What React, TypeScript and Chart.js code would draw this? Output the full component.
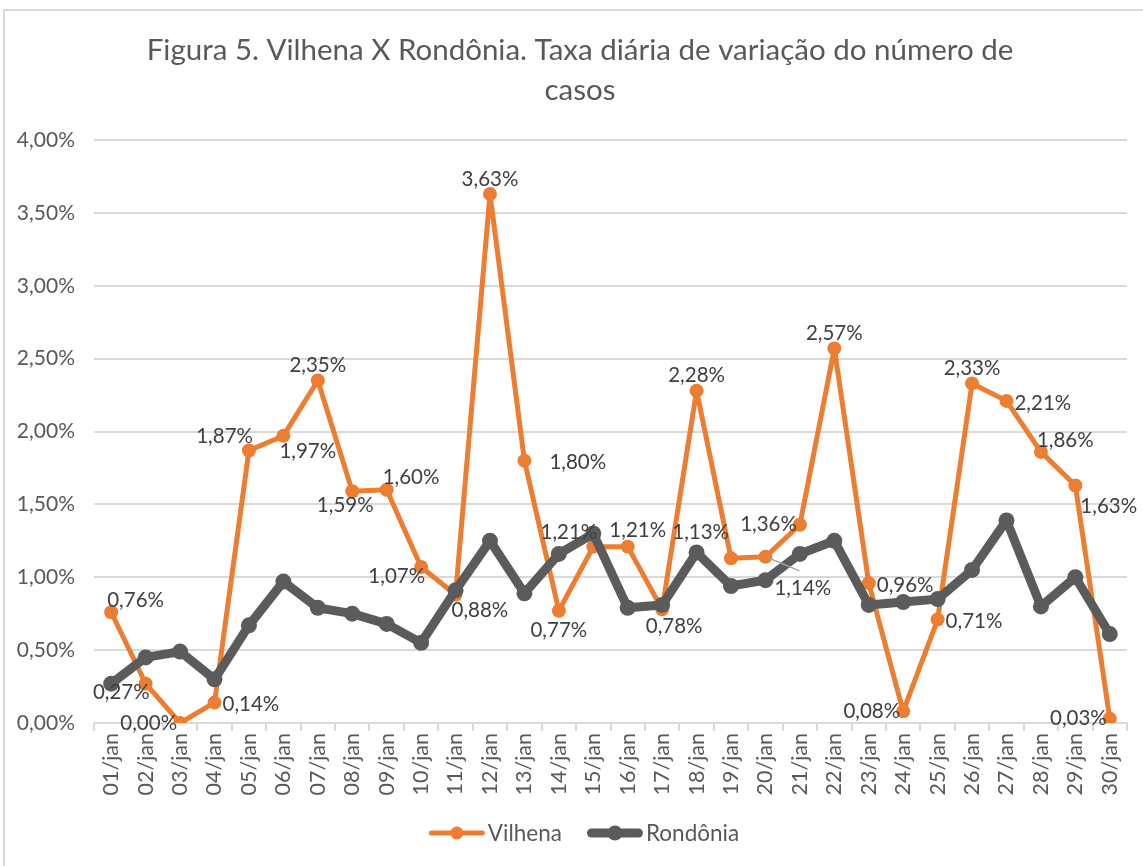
import React, { useEffect, useRef } from "react";
import { Chart, registerables } from "chart.js";

Chart.register(...registerables);

const categories = [
  "01/jan", "02/jan", "03/jan", "04/jan", "05/jan", "06/jan", "07/jan", "08/jan", "09/jan", "10/jan",
  "11/jan", "12/jan", "13/jan", "14/jan", "15/jan", "16/jan", "17/jan", "18/jan", "19/jan", "20/jan",
  "21/jan", "22/jan", "23/jan", "24/jan", "25/jan", "26/jan", "27/jan", "28/jan", "29/jan", "30/jan",
];

const vilhena = [
  0.76, 0.27, 0.0, 0.14, 1.87, 1.97, 2.35, 1.59, 1.6, 1.07,
  0.88, 3.63, 1.8, 0.77, 1.21, 1.21, 0.78, 2.28, 1.13, 1.14,
  1.36, 2.57, 0.96, 0.08, 0.71, 2.33, 2.21, 1.86, 1.63, 0.03,
];

const rondonia = [
  0.27, 0.45, 0.49, 0.3, 0.67, 0.97, 0.79, 0.75, 0.68, 0.55,
  0.91, 1.25, 0.89, 1.16, 1.3, 0.79, 0.81, 1.17, 0.94, 0.98,
  1.16, 1.25, 0.81, 0.83, 0.85, 1.05, 1.39, 0.8, 1.0, 0.61,
];

const seriesNames = ["Vilhena", "Rondônia"];
const titleLines = ["Figura 5. Vilhena X Rondônia. Taxa diária de variação do número de", "casos"];
const yMin = 0;
const yMax = 4;
const yStep = 0.5;

// label placement codes for Vilhena data labels
const labelPos = [
  "tr", "bl", "l", "r", "tl", "br", "t", "bL", "tr", "bl",
  "br", "t", "rr", "b", "tl", "tR", "bR", "t", "tl2", "lead",
  "l", "t", "r", "l", "r", "t", "r", "tr", "br2", "l",
];

const ORANGE = "#ED7D31";
const GREY = "#5B5B5B";
const FONT = "Lato, 'Open Sans', sans-serif";

const fmt = (v: number) => v.toFixed(2).replace(".", ",") + "%";

const dataLabelPlugin = {
  id: "dataLabelPlugin",
  afterDatasetsDraw(chart: any) {
    const ctx = chart.ctx;
    const meta = chart.getDatasetMeta(0);
    ctx.save();
    ctx.font = `20.5px ${FONT}`;
    ctx.fillStyle = "#404040";
    ctx.textBaseline = "middle";
    ctx.textAlign = "left";
    meta.data.forEach((pt: any, i: number) => {
      const x = pt.x;
      const y = pt.y;
      const text = fmt(vilhena[i]);
      const w = ctx.measureText(text).width;
      let lx = x;
      let cy = y;
      switch (labelPos[i]) {
        case "t": lx = x - w / 2; cy = y - 15; break;
        case "tR": lx = x + 10 - w / 2; cy = y - 16; break;
        case "b": lx = x - w / 2; cy = y + 20; break;
        case "bR": lx = x + 12 - w / 2; cy = y + 17; break;
        case "bL": lx = x - 7 - w / 2; cy = y + 14; break;
        case "l": lx = x - 3 - w; cy = y; break;
        case "r": lx = x + 8; cy = y + 2; break;
        case "rr": lx = x + 25; cy = y + 2; break;
        case "tl": lx = x + 4 - w; cy = y - 14; break;
        case "tl2": lx = x - 2 - w; cy = y - 26; break;
        case "tr": lx = x - 4; cy = y - 12; break;
        case "bl": lx = x + 4 - w; cy = y + 9; break;
        case "br": lx = x - 4; cy = y + 16; break;
        case "br2": lx = x + 5; cy = y + 21; break;
        case "lead":
          ctx.save();
          ctx.strokeStyle = "#A6A6A6";
          ctx.lineWidth = 1.5;
          ctx.beginPath();
          ctx.moveTo(x + 3, y + 1);
          ctx.lineTo(x + 34, y + 14);
          ctx.stroke();
          ctx.restore();
          lx = x + 9; cy = y + 32; break;
      }
      ctx.fillText(text, lx, cy);
    });
    ctx.restore();
  },
};

const legendPlugin = {
  id: "customLegend",
  afterDraw(chart: any) {
    const ctx = chart.ctx;
    ctx.save();
    ctx.font = `22.5px ${FONT}`;
    ctx.textBaseline = "middle";
    ctx.textAlign = "left";
    const items = [
      { name: seriesNames[0], color: ORANGE, lw: 5, r: 6.5 },
      { name: seriesNames[1], color: GREY, lw: 9, r: 7.5 },
    ];
    const markW = 56;
    const gapText = 3;
    const gapItem = 25;
    const widths = items.map((it) => ctx.measureText(it.name).width);
    const total = items.reduce((s, it, i) => s + markW + gapText + widths[i], 0) + gapItem * (items.length - 1);
    const center = (chart.width + 25) / 2;
    let x = center - total / 2;
    const cy = 833;
    items.forEach((it, i) => {
      ctx.strokeStyle = it.color;
      ctx.lineWidth = it.lw;
      ctx.lineCap = "round";
      ctx.beginPath();
      ctx.moveTo(x + it.lw / 2, cy);
      ctx.lineTo(x + markW - it.lw / 2, cy);
      ctx.stroke();
      ctx.fillStyle = it.color;
      ctx.beginPath();
      ctx.arc(x + markW / 2, cy, it.r, 0, Math.PI * 2);
      ctx.fill();
      ctx.fillStyle = "#595959";
      ctx.fillText(it.name, x + markW + gapText, cy + 1);
      x += markW + gapText + widths[i] + gapItem;
    });
    ctx.restore();
  },
};

export default function App() {
  const canvasRef = useRef<HTMLCanvasElement | null>(null);

  useEffect(() => {
    document.body.style.margin = "0";
    let chart: Chart | null = null;
    let cancelled = false;
    const create = () => {
      if (cancelled || !canvasRef.current) return;
      chart = new Chart(canvasRef.current, {
        type: "line",
        data: {
          labels: categories,
          datasets: [
            {
              label: seriesNames[0],
              data: vilhena,
              borderColor: ORANGE,
              backgroundColor: ORANGE,
              borderWidth: 5,
              pointRadius: 7,
              pointHoverRadius: 7,
              pointBorderWidth: 0,
              pointBackgroundColor: ORANGE,
              borderJoinStyle: "round",
              borderCapStyle: "round",
              tension: 0,
              order: 1,
              yAxisID: "y",
            },
            {
              label: seriesNames[1],
              data: rondonia,
              borderColor: GREY,
              backgroundColor: GREY,
              borderWidth: 9,
              pointRadius: 8,
              pointHoverRadius: 8,
              pointBorderWidth: 0,
              pointBackgroundColor: GREY,
              borderJoinStyle: "round",
              borderCapStyle: "round",
              tension: 0,
              order: 0,
              yAxisID: "y",
            },
          ],
        },
        options: {
          animation: false,
          responsive: false,
          devicePixelRatio: 1,
          layout: { padding: { left: 17, right: 0, top: 10, bottom: 0 } },
          plugins: {
            legend: { display: false },
            tooltip: { enabled: false },
            title: {
              display: true,
              text: titleLines,
              color: "#595959",
              font: { family: FONT, size: 29.5, weight: "normal", lineHeight: 40 / 29.5 },
              padding: { top: 20, bottom: 30 },
            },
          },
          scales: {
            x: {
              type: "category",
              offset: true,
              grid: {
                offset: true,
                drawOnChartArea: false,
                drawTicks: true,
                tickLength: 8,
                color: "#D9D9D9",
                lineWidth: 2,
              },
              border: { display: true, color: "#D9D9D9", width: 2 },
              ticks: {
                autoSkip: false,
                maxRotation: 90,
                minRotation: 90,
                padding: 2,
                color: "#595959",
                font: { family: FONT, size: 21.5 },
              },
              afterFit: (s: any) => {
                s.height = 143;
              },
            },
            y: {
              position: "left",
              min: yMin,
              max: yMax,
              grid: { color: "#D9D9D9", lineWidth: 2, drawTicks: false },
              border: { display: false },
              ticks: {
                stepSize: yStep,
                padding: 19,
                color: "#595959",
                font: { family: FONT, size: 21 },
                callback: (v: any) => fmt(Number(v)),
              },
              afterFit: (s: any) => {
                s.width = 77;
              },
            },
            yRightSpacer: {
              position: "right",
              display: true,
              grid: { display: false, drawTicks: false },
              border: { display: false },
              ticks: { display: false },
              afterFit: (s: any) => {
                s.width = 16;
              },
            },
          },
        },
        plugins: [dataLabelPlugin, legendPlugin],
      } as any);
    };
    const fonts = (document as any).fonts;
    if (fonts && fonts.load) {
      Promise.all([fonts.load(`18px Lato`), fonts.load(`27px Lato`)])
        .catch(() => null)
        .then(create);
    } else {
      create();
    }
    return () => {
      cancelled = true;
      if (chart) chart.destroy();
    };
  }, []);

  return (
    <div style={{ position: "relative", width: 1143, height: 866, overflow: "hidden", background: "#fff" }}>
      <div
        style={{
          position: "absolute",
          left: 3,
          top: 9,
          width: 1300,
          height: 1000,
          border: "2px solid #D9D9D9",
          boxSizing: "border-box",
        }}
      />
      <canvas
        ref={canvasRef}
        width={1143}
        height={866}
        style={{ position: "absolute", left: 0, top: 0, width: 1143, height: 866 }}
      />
    </div>
  );
}
